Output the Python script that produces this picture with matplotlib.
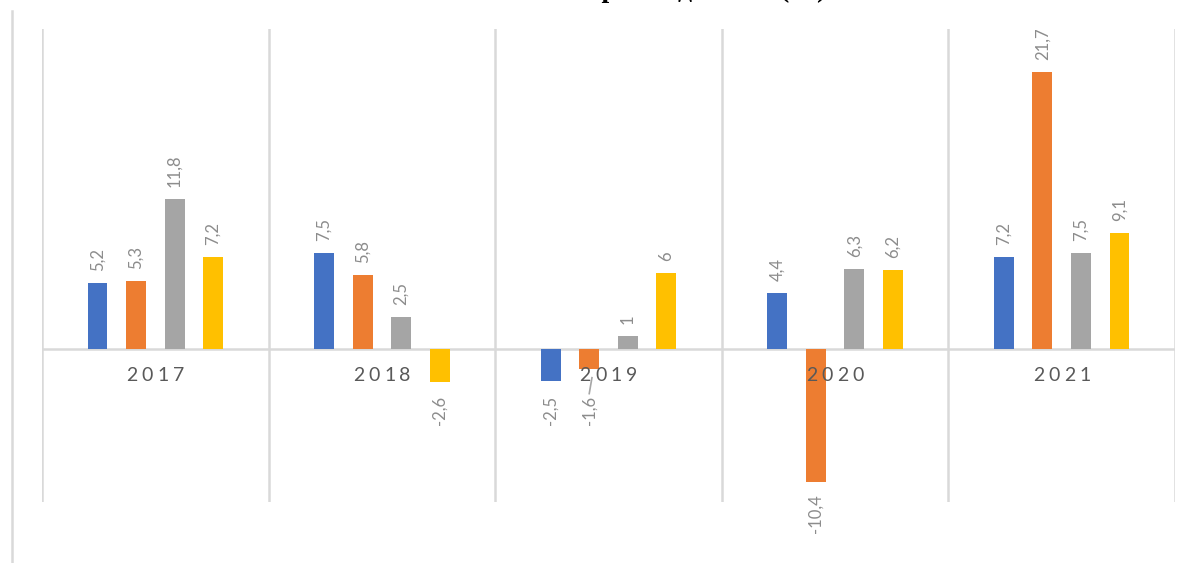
import numpy as np
import matplotlib.pyplot as plt
from matplotlib.lines import Line2D

years = ['2017', '2018', '2019', '2020', '2021']
series_1 = [5.2, 7.5, -2.5, 4.4, 7.2]
series_2 = [5.3, 5.8, -1.6, -10.4, 21.7]
series_3 = [11.8, 2.5, 1.0, 6.3, 7.5]
series_4 = [7.2, -2.6, 6.0, 6.2, 9.1]
labels_1 = ['5,2', '7,5', '-2,5', '4,4', '7,2']
labels_2 = ['5,3', '5,8', '-1,6', '-10,4', '21,7']
labels_3 = ['11,8', '2,5', '1', '6,3', '7,5']
labels_4 = ['7,2', '-2,6', '6', '6,2', '9,1']
title = 'Темпы роста добычи (%)'

colors = ['#4472C4', '#ED7D31', '#A5A5A5', '#FFC000']
grid_col = '#D9D9D9'
lab_col = '#8C8C8C'
lab_font = 'Lato'

fig = plt.figure(figsize=(11.93, 5.63), dpi=100)
ax = fig.add_axes([42 / 1193, 61 / 563, 1133 / 1193, 473 / 563])

x = np.arange(len(years))
step = 0.17
width = 0.088
all_series = [series_1, series_2, series_3, series_4]
all_labels = [labels_1, labels_2, labels_3, labels_4]

for i, (vals, labs) in enumerate(zip(all_series, all_labels)):
    xs = x + (i - 1.5) * step
    ax.bar(xs, vals, width=width, color=colors[i], zorder=3)
    for xv, v, lab in zip(xs, vals, labs):
        if v >= 0:
            ax.annotate(lab, (xv, v), xytext=(0, 12), textcoords='offset pixels',
                        ha='center', va='bottom', rotation=90, fontsize=12,
                        color=lab_col, family=lab_font)
        elif v > -3.5:
            # moved below the category labels, as in the source chart
            ax.annotate(lab, (xv, 0), xytext=(0, -47), textcoords='offset pixels',
                        ha='center', va='top', rotation=90, fontsize=12,
                        color=lab_col, family=lab_font)
            if v > -2:
                ax.plot([xv + 0.012, xv], [v - 0.65, -3.5], color='#A6A6A6',
                        lw=1.2, zorder=4)
        else:
            ax.annotate(lab, (xv, v), xytext=(0, -13), textcoords='offset pixels',
                        ha='center', va='top', rotation=90, fontsize=12,
                        color=lab_col, family=lab_font)

# category labels with spaced digits
for xc, yr in zip(x, years):
    for k, ch in enumerate(yr):
        ax.annotate(ch, (xc, 0), xytext=((k - 1.5) * 15.5, -18), textcoords='offset pixels',
                    ha='center', va='top', fontsize=14, color='#595959',
                    family=lab_font, zorder=5)

for b in np.arange(-0.5, len(years), 1.0):
    ax.axvline(b, color=grid_col, lw=1.8, zorder=1)
ax.axhline(0, color=grid_col, lw=1.8, zorder=2)

ax.set_xlim(-0.5, len(years) - 0.5)
ax.set_ylim(-12.0, 25.1)
ax.set_xticks([])
ax.set_yticks([])
for s in ax.spines.values():
    s.set_visible(False)

# outer chart border (left edge only visible)
fig.add_artist(Line2D([12 / 1193, 12 / 1193], [0, 1 - 11 / 563], color=grid_col, lw=1.8))

# title sits mostly above the visible area, as in the source image
fig.text(826 / 1193, 1.0 + 3 / 563, title, ha='right', va='baseline', fontsize=20,
         fontweight='bold', family='Liberation Serif')

fig.savefig('out.png', dpi=100)
